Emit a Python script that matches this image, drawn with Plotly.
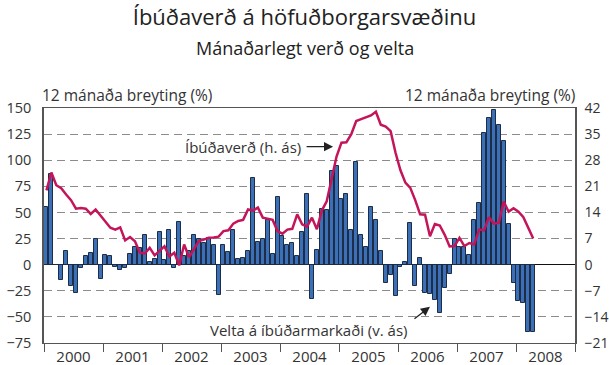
import plotly.graph_objects as go

# Year labels along the time axis (one block of 12 months per year)
years = ["2000", "2001", "2002", "2003", "2004", "2005", "2006", "2007", "2008"]

# Turnover on the housing market, 12-month change (%), left axis
velta = [
    55, 87, 0, -15, 13, -20, -27, -3, 8, 11, 25, -14,        # 2000
    9, 8, -2, -5, -3, 10, 17, 16, 28, 3, 5, 31,              # 2001
    4, 33, -3, 41, 8, 13, 28, 25, 21, 26, 19, -29,           # 2002
    19, 12, 33, 5, 6, 13, 83, 22, 25, 43, 10, 65,            # 2003
    27, 19, 21, 8, 31, 68, -33, 14, 53, 52, 90, 94,          # 2004
    63, 68, 33, 98, 28, 17, 55, 43, 13, -18, -10, -30,       # 2005
    -2, 3, 40, -20, 6, -27, -28, -34, -46, -22, -9, 25,      # 2006
    17, 17, 9, 43, 59, 126, 140, 148, 134, 118, 39, -18,     # 2007
    -35, -37, -64, -64,                                      # 2008
]

# House prices, 12-month change (%), right axis
verd = [
    19.9, 24.7, 21.3, 20.5, 18.8, 17.3, 15.0, 15.2, 15.0, 13.6, 14.8, 13.2,
    11.4, 9.9, 9.4, 10.0, 6.5, 7.4, 6.3, 3.2, 3.0, 4.5, 2.5, 3.6,
    4.9, 2.2, 3.2, -0.2, 5.4, 2.0, 4.0, 6.3, 6.7, 7.2, 7.3, 7.5,
    9.0, 9.2, 11.0, 11.7, 12.0, 14.8, 14.5, 15.3, 12.6, 12.2, 12.0, 9.0,
    8.3, 9.4, 9.6, 13.5, 10.8, 10.2, 12.6, 9.5, 14.5, 17.0, 23.0, 29.0,
    32.7, 32.8, 35.0, 38.5, 39.0, 39.5, 40.0, 41.0, 37.5, 37.0, 35.8, 30.0,
    25.3, 22.0, 20.6, 17.3, 13.5, 13.4, 7.6, 10.9, 10.5, 8.0, 4.9, 5.0,
    7.2, 5.0, 5.8, 5.4, 9.4, 9.2, 12.7, 11.0, 11.2, 16.9, 14.2, 15.1,
    14.2, 12.7, 9.9, 7.0,
]

left_ticks = [-75, -50, -25, 0, 25, 50, 75, 100, 125, 150]
right_ticks = [-21, -14, -7, 0, 7, 14, 21, 28, 35, 42]

FONT = "Open Sans"
TXT = "#333333"
BAR = "#3b6fb6"
BAR_EDGE = "#1d2c47"
LINE = "#c4145a"

xpos = [i + 0.5 for i in range(len(velta))]
n_months = 12 * len(years)

fig = go.Figure()
fig.add_trace(go.Bar(
    x=xpos, y=velta, width=0.8,
    marker=dict(color=BAR, line=dict(color=BAR_EDGE, width=1)),
    yaxis="y", showlegend=False,
))
fig.add_trace(go.Scatter(
    x=xpos, y=verd, mode="lines",
    line=dict(color=LINE, width=2.5),
    yaxis="y2", showlegend=False,
))

fig.update_layout(
    width=609, height=365,
    margin=dict(l=44, r=34, t=108, b=22, autoexpand=False),
    paper_bgcolor="white", plot_bgcolor="white",
    font=dict(family=FONT, size=14, color=TXT),
    bargap=0,
    title=dict(
        text="Íbúðaverð á höfuðborgarsvæðinu",
        x=0.5, xanchor="center", y=1 - 17 / 365, yanchor="middle",
        font=dict(family=FONT, size=22, color="#222222"),
    ),
    xaxis=dict(
        range=[0, n_months], automargin=False,
        tickmode="array",
        tickvals=[12 * k + 6 for k in range(len(years))],
        ticktext=years,
        ticks="", ticklen=0,
        tickfont=dict(size=15, color=TXT),
        showgrid=False, zeroline=False,
        showline=True, mirror=True, linecolor="#555555", linewidth=1.2,
        minor=dict(
            tickmode="array",
            tickvals=[12 * k for k in range(len(years) + 1)],
            ticks="outside", ticklen=8, tickwidth=1.2, tickcolor="#555555",
            showgrid=False,
        ),
    ),
    yaxis=dict(
        range=[-75, 150], automargin=False,
        tickmode="array", tickvals=left_ticks,
        ticks="", ticklabelstandoff=8,
        tickfont=dict(size=14.5, color=TXT),
        showgrid=True, gridcolor="#8c8c8c", gridwidth=1.4, griddash="8px,5px",
        zeroline=True, zerolinecolor="#111111", zerolinewidth=1.2,
        showline=True, linecolor="#555555", linewidth=1.5,
    ),
    yaxis2=dict(
        range=[-21, 42], automargin=False,
        overlaying="y", side="right",
        tickmode="array", tickvals=right_ticks,
        ticks="", ticklabelstandoff=5,
        tickfont=dict(size=14, color=TXT),
        showgrid=False, zeroline=False,
        showline=True, linecolor="#555555", linewidth=1.5,
    ),
)

annotations = [
    dict(text="Mánaðarlegt verð og velta", xref="paper", yref="paper",
         x=(305 - 44) / 531, y=(343 - 48) / 235, xanchor="center", yanchor="middle",
         showarrow=False, font=dict(size=18, color="#222222")),
    dict(text="12 mánaða breyting (%)", xref="paper", yref="paper",
         x=(40 - 44) / 531, y=(343 - 95) / 235, xanchor="left", yanchor="middle",
         showarrow=False, font=dict(size=15.5, color=TXT)),
    dict(text="12 mánaða breyting (%)", xref="paper", yref="paper",
         x=(577 - 44) / 531, y=(343 - 95) / 235, xanchor="right", yanchor="middle",
         showarrow=False, font=dict(size=15.5, color=TXT)),
    # series labels with pointer arrows
    dict(text="Íbúðaverð (h. ás)", xref="x", yref="y",
         x=52.6, y=113, xanchor="right", yanchor="middle",
         showarrow=False, font=dict(size=15, color=TXT)),
    dict(text="", xref="x", yref="y", x=58.8, y=113,
         ax=-28, ay=0, showarrow=True, arrowhead=2, arrowsize=1.4,
         arrowwidth=1.3, arrowcolor="#222222", standoff=0, startstandoff=0),
    dict(text="Velta á íbúðarmarkaði (v. ás)", xref="x", yref="y",
         x=74.4, y=-62.5, xanchor="right", yanchor="middle",
         showarrow=False, font=dict(size=15, color=TXT)),
    dict(text="", xref="x", yref="y", x=78.5, y=-40.4,
         ax=-17, ay=13, showarrow=True, arrowhead=2, arrowsize=1.4,
         arrowwidth=1.3, arrowcolor="#222222", standoff=0, startstandoff=0),
]
fig.update_layout(annotations=annotations)

fig.write_html("out.html")
